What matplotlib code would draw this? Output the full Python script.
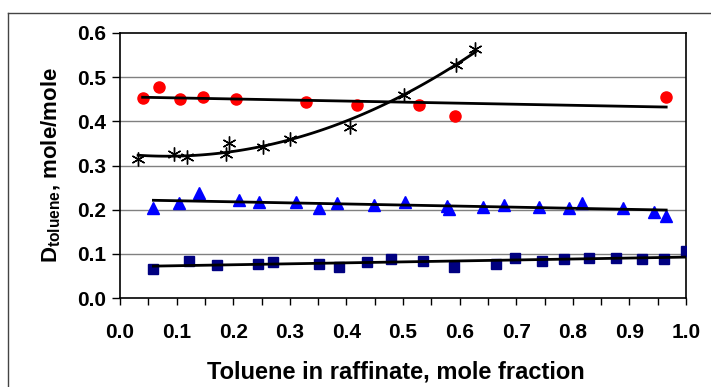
import numpy as np
import matplotlib
matplotlib.use("Agg")
import matplotlib.pyplot as plt
from matplotlib.lines import Line2D

plt.rcParams['font.family'] = ['Liberation Sans', 'DejaVu Sans']
plt.rcParams['font.weight'] = 'bold'
plt.rcParams['mathtext.fontset'] = 'custom'
plt.rcParams['mathtext.rm'] = 'Liberation Sans:bold'
plt.rcParams['mathtext.it'] = 'Liberation Sans:bold'
plt.rcParams['mathtext.bf'] = 'Liberation Sans:bold'

# red circles
red_x = [0.040, 0.069, 0.106, 0.147, 0.205, 0.329, 0.419, 0.529, 0.592, 0.965]
red_y = [0.453, 0.478, 0.450, 0.455, 0.450, 0.443, 0.438, 0.438, 0.412, 0.456]

# black asterisks
star_x = [0.032, 0.095, 0.118, 0.187, 0.192, 0.252, 0.300, 0.406, 0.502, 0.593, 0.628]
star_y = [0.314, 0.326, 0.320, 0.326, 0.350, 0.343, 0.361, 0.388, 0.460, 0.527, 0.563]

# blue triangles
tri_x = [0.059, 0.105, 0.140, 0.210, 0.245, 0.311, 0.351, 0.383, 0.449, 0.504,
         0.577, 0.582, 0.642, 0.678, 0.740, 0.793, 0.816, 0.889, 0.943, 0.965]
tri_y = [0.204, 0.214, 0.238, 0.222, 0.218, 0.218, 0.203, 0.216, 0.211, 0.218,
         0.209, 0.201, 0.207, 0.211, 0.207, 0.203, 0.216, 0.204, 0.194, 0.186]

# navy squares
sq_x = [0.059, 0.122, 0.171, 0.243, 0.271, 0.352, 0.387, 0.436, 0.479, 0.535,
        0.590, 0.665, 0.697, 0.746, 0.784, 0.828, 0.876, 0.923, 0.961, 1.000]
sq_y = [0.066, 0.084, 0.075, 0.078, 0.082, 0.078, 0.071, 0.081, 0.088, 0.084,
        0.071, 0.077, 0.090, 0.084, 0.088, 0.090, 0.090, 0.088, 0.088, 0.107]


def trend(x, y, deg):
    c = np.polyfit(x, y, deg)
    xs = np.linspace(min(x), max(x), 100)
    return xs, np.polyval(c, xs)


fig = plt.figure(figsize=(7.11, 3.87), dpi=100)
ax = fig.add_axes([120/711, 1-298/387, 566/711, 265/387])

# outer chart border
fig.add_artist(Line2D([8/711, 1], [1-13/387, 1-13/387], color="#444444", lw=1))
fig.add_artist(Line2D([8/711, 8/711], [0, 1-13/387], color="#444444", lw=1))

for y in [0.1, 0.2, 0.3, 0.4, 0.5]:
    ax.axhline(y, color="#808080", lw=1, zorder=0)

ax.plot(red_x, red_y, "o", color="red", ms=8, mec="red", zorder=3)
ax.plot(star_x, star_y, marker=(6, 2, 0), ls="none", color="black", ms=10, mew=1, zorder=3)
ax.plot(tri_x, tri_y, "^", color="blue", ms=8, zorder=3)
ax.plot(sq_x, sq_y, "s", color="#000080", ms=7, zorder=3)

for xx, yy, d in [(red_x, red_y, 1), (star_x, star_y, 2), (tri_x, tri_y, 1), (sq_x, sq_y, 1)]:
    xs, ys = trend(xx, yy, d)
    ax.plot(xs, ys, color="black", lw=2, zorder=4)

ax.set_xlim(0, 1.0)
ax.set_ylim(0, 0.6)
ax.set_xticks(np.arange(0, 1.01, 0.1))
ax.set_xticks(np.arange(0.05, 1.0, 0.1), minor=True)
ax.set_yticks(np.arange(0, 0.61, 0.1))
ax.xaxis.set_major_formatter(matplotlib.ticker.FormatStrFormatter("%.1f"))
ax.yaxis.set_major_formatter(matplotlib.ticker.FormatStrFormatter("%.1f"))
ax.tick_params(axis="x", which="both", direction="out", length=5, width=1, pad=13, labelsize=15)
ax.tick_params(axis="y", direction="out", length=6, width=1, pad=4, labelsize=15)
for s in ax.spines.values():
    s.set_linewidth(1.2)

ax.set_xlabel("Toluene in raffinate, mole fraction", fontsize=17, fontweight="bold", labelpad=11)
ax.xaxis.set_label_coords(0.487, -0.235)
ax.set_ylabel(r"D$_{\mathregular{toluene}}$, mole/mole", fontsize=16, fontweight="bold", labelpad=10)

fig.savefig("out.png", dpi=100)
